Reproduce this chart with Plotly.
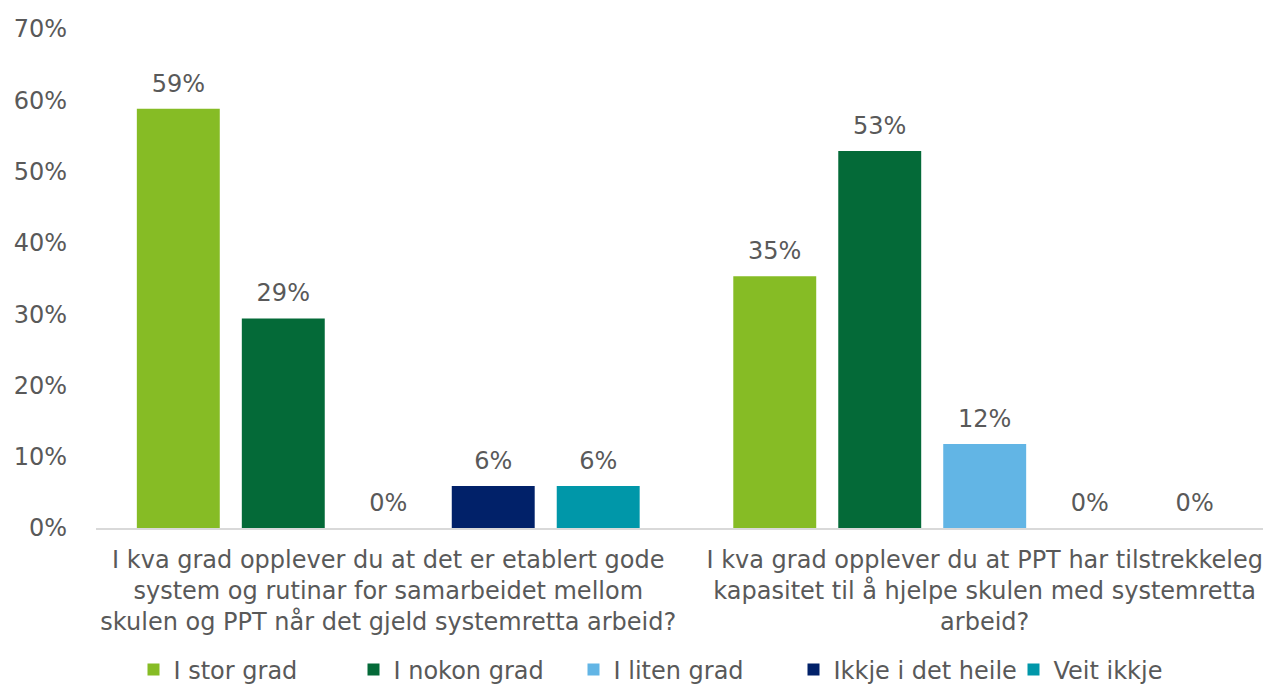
import plotly.graph_objects as go

# Survey answers, share of respondents
categories = [
    "I kva grad opplever du at det er etablert gode<br>system og rutinar for samarbeidet mellom<br>skulen og PPT når det gjeld systemretta arbeid?",
    "I kva grad opplever du at PPT har tilstrekkeleg<br>kapasitet til å hjelpe skulen med systemretta<br>arbeid?",
]
series_names = ["I stor grad", "I nokon grad", "I liten grad", "Ikkje i det heile", "Veit ikkje"]
stor_grad = [0.588, 0.353]
nokon_grad = [0.294, 0.529]
liten_grad = [0.0, 0.118]
ikkje_heile = [0.059, 0.0]
veit_ikkje = [0.059, 0.0]
y_ticks = [0, 0.1, 0.2, 0.3, 0.4, 0.5, 0.6, 0.7]

colors = ["#86BC25", "#046A38", "#62B5E5", "#012169", "#0097A9"]
text_color = "#595959"
font_family = "DejaVu Sans, Verdana, sans-serif"
fsize = 24

fig = go.Figure()

all_values = [stor_grad, nokon_grad, liten_grad, ikkje_heile, veit_ikkje]
for name, vals, col in zip(series_names, all_values, colors):
    fig.add_trace(go.Bar(x=categories, y=vals, name=name,
                         marker=dict(color=col, line=dict(width=0))))

# data labels, placed with the same grouping as the bars
for name, vals in zip(series_names, all_values):
    fig.add_trace(go.Scatter(x=categories, y=vals, mode="markers+text",
                             text=[f"{v:.0%}" for v in vals],
                             textposition="top center",
                             textfont=dict(size=fsize, color=text_color, family=font_family),
                             marker=dict(size=16, opacity=0),
                             showlegend=False, hoverinfo="skip", cliponaxis=False))

# page body has an 8px margin, so the figure is 8px smaller than the window
fig.update_layout(
    width=1263, height=676,
    barmode="group", bargap=0.12, bargroupgap=0.21,
    scattermode="group", scattergap=0.12,
    plot_bgcolor="white", paper_bgcolor="white",
    margin=dict(l=88, r=0, t=21, b=156),
    font=dict(family=font_family, size=fsize, color=text_color),
    legend=dict(orientation="h", x=0.5, xanchor="center",
                yref="container", y=14 / 676, yanchor="middle",
                font=dict(size=fsize, color=text_color), itemwidth=30,
                entrywidth=175, entrywidthmode="pixels",
                traceorder="normal"),
    showlegend=True,
)
fig.update_xaxes(type="category", range=[-0.49, 1.48], showline=True,
                 linecolor="#d9d9d9", linewidth=2, ticks="", automargin=False,
                 ticklabelstandoff=9, tickfont=dict(size=fsize, color=text_color))
fig.update_yaxes(range=[0, 0.7], tickvals=y_ticks, tickformat=".0%",
                 showgrid=False, zeroline=False, showline=False, automargin=False,
                 ticklabelstandoff=28, tickfont=dict(size=fsize, color=text_color))

fig.write_html("out.html")
